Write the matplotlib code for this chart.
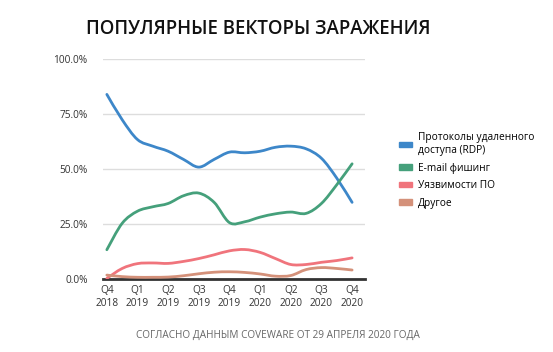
import numpy as np
import matplotlib
matplotlib.use("Agg")
import matplotlib.pyplot as plt
from matplotlib.patches import Patch, PathPatch
from matplotlib.path import Path

plt.rcParams['font.family'] = ['Open Sans', 'DejaVu Sans']

# квартальные подписи оси X
quarters = ["Q4\n2018", "Q1\n2019", "Q2\n2019", "Q3\n2019", "Q4\n2019",
            "Q1\n2020", "Q2\n2020", "Q3\n2020", "Q4\n2020"]
# отсчеты каждые полквартала (0 = Q4 2018)
t = [0, 0.5, 1, 1.5, 2, 2.5, 3, 3.5, 4, 4.5, 5, 5.5, 6, 6.5, 7, 7.5, 8]

rdp = [84, 72.5, 63.5, 60.5, 58.2, 54.5, 51.0, 54.5, 57.8, 57.5, 58.2, 60.0, 60.5, 59.3, 55.0, 46.0, 35.0]
phishing = [13.5, 25.5, 31.0, 33.0, 34.5, 38.0, 39.2, 35.0, 25.8, 26.2, 28.3, 29.8, 30.6, 30.0, 34.5, 43.0, 52.5]
vuln = [0.5, 5.0, 7.2, 7.5, 7.3, 8.2, 9.5, 11.2, 13.0, 13.6, 12.3, 9.5, 6.8, 6.8, 7.8, 8.6, 9.8]
other = [2.0, 1.3, 1.0, 1.0, 1.1, 1.7, 2.6, 3.3, 3.5, 3.2, 2.5, 1.5, 1.8, 4.5, 5.4, 5.0, 4.3]

labels = ["Протоколы удаленного\nдоступа (RDP)", "E-mail фишинг", "Уязвимости ПО", "Другое"]
colors = ["#3d87c9", "#45a07b", "#f0747c", "#d4917a"]


def smooth_path(x, y):
    # сглаженная линия через точки (Catmull-Rom -> кривые Безье)
    p = np.column_stack([x, y]).astype(float)
    verts = [p[0]]
    codes = [Path.MOVETO]
    n = len(p)
    for i in range(n - 1):
        p0 = p[max(i - 1, 0)]
        p1, p2 = p[i], p[i + 1]
        p3 = p[min(i + 2, n - 1)]
        verts += [p1 + (p2 - p0) / 6, p2 - (p3 - p1) / 6, p2]
        codes += [Path.CURVE4] * 3
    return Path(verts, codes)


fig = plt.figure(figsize=(5.53, 3.52), dpi=100)
ax = fig.add_axes([0.186, 0.206, 0.474, 0.626])

for y, c in zip([rdp, phishing, vuln, other], colors):
    ax.add_patch(PathPatch(smooth_path(t, y), fill=False, edgecolor=c, lw=2,
                           capstyle='round', joinstyle='round', zorder=3))

ax.set_xlim(-0.13, 8.42)
ax.set_ylim(0, 100)
ax.set_yticks([0, 25, 50, 75, 100])
ax.set_yticklabels(["0.0%", "25.0%", "50.0%", "75.0%", "100.0%"])
ax.set_xticks(range(9))
ax.set_xticklabels(quarters)
ax.tick_params(length=0, labelsize=7.3, colors="#333333", pad=4)
ax.tick_params(axis='y', pad=11)
ax.grid(axis='y', color="#dddddd", lw=1)
ax.set_axisbelow(True)
for s in ["top", "right", "left"]:
    ax.spines[s].set_visible(False)
ax.spines["bottom"].set_color("#333333")
ax.spines["bottom"].set_linewidth(2)

handles = [Patch(color=c) for c in colors]
fig.legend(handles, labels, loc="upper left", bbox_to_anchor=(0.705, 0.65),
           frameon=False, fontsize=7.3, handlelength=1.3, handleheight=0.5,
           handletextpad=0.6, labelspacing=0.65)

fig.text(0.467, 0.918, "ПОПУЛЯРНЫЕ ВЕКТОРЫ ЗАРАЖЕНИЯ", ha="center", va="center",
         fontsize=13.4, fontweight="semibold", color="#111111")
fig.text(0.503, 0.048, "СОГЛАСНО ДАННЫМ COVEWARE ОТ 29 АПРЕЛЯ 2020 ГОДА", ha="center",
         va="center", fontsize=7.2, color="#666666")

fig.savefig("out.png", dpi=100)
